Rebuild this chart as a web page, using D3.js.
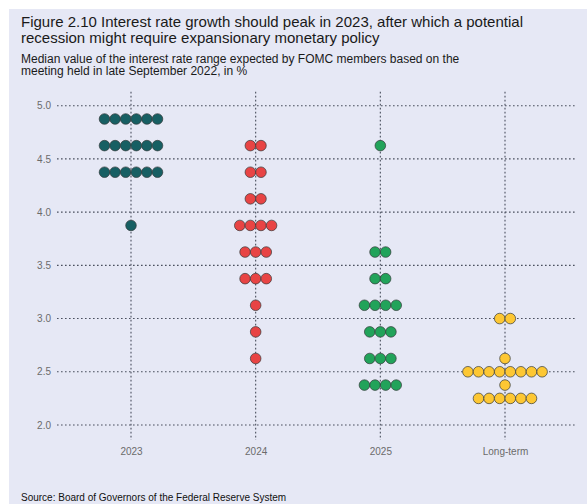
<!DOCTYPE html>
<html>
<head>
<meta charset="utf-8">
<script src="https://cdn.jsdelivr.net/npm/d3@7"></script>
<style>
  html, body { margin: 0; padding: 0; background: #ffffff; }
  svg { display: block; font-family: "Liberation Sans", Arial, sans-serif; }
</style>
</head>
<body>
<svg id="chart" width="587" height="504"></svg>
<script>
// FOMC dot plot, September 2022: each dot is one member's projection
const categories = ["2023", "2024", "2025", "Long-term"];
const colors = ["#175f63", "#e84444", "#22a35a", "#fdc733"];

// rate level (%) and number of members at that level, per horizon
const rates2023 = [4.875, 4.625, 4.375, 3.875];
const counts2023 = [6, 6, 6, 1];
const rates2024 = [4.625, 4.375, 4.125, 3.875, 3.625, 3.375, 3.125, 2.875, 2.625];
const counts2024 = [2, 2, 2, 4, 3, 3, 1, 1, 1];
const rates2025 = [4.625, 3.625, 3.375, 3.125, 2.875, 2.625, 2.375];
const counts2025 = [1, 2, 2, 4, 3, 3, 4];
const ratesLong = [3.0, 2.625, 2.5, 2.375, 2.25];
const countsLong = [2, 1, 8, 1, 6];

const yTicks = [2.0, 2.5, 3.0, 3.5, 4.0, 4.5, 5.0];

const title = ["Figure 2.10 Interest rate growth should peak in 2023, after which a potential",
               "recession might require expansionary monetary policy"];
const subtitle = ["Median value of the interest rate range expected by FOMC members based on the",
                  "meeting held in late September 2022, in %"];
const source = "Source: Board of Governors of the Federal Reserve System";

const groups = [
  [rates2023, counts2023],
  [rates2024, counts2024],
  [rates2025, counts2025],
  [ratesLong, countsLong]
];

const svg = d3.select("#chart");

// panel background
svg.append("rect").attr("x", 9).attr("y", 9).attr("width", 578).attr("height", 495)
  .attr("fill", "#e6e8f5");

// titles
const tt = svg.append("text").attr("fill", "#1a1a1a").attr("font-size", 15);
title.forEach((t, i) => tt.append("tspan").attr("x", 21).attr("y", 27 + i * 16).text(t));
const st = svg.append("text").attr("fill", "#1a1a1a").attr("font-size", 12);
subtitle.forEach((t, i) => st.append("tspan").attr("x", 21).attr("y", 62.5 + i * 12.5).text(t));

// scales
const x = d3.scalePoint().domain(categories).range([131, 505]);
const y = d3.scaleLinear().domain([2.0, 5.0]).range([425, 105.7]);
const r = 5.3;

// grid: horizontal dotted lines at ticks
const grid = svg.append("g");
grid.selectAll("line.h").data(yTicks).join("line")
  .attr("x1", 57).attr("x2", 577)
  .attr("y1", d => y(d)).attr("y2", d => y(d))
  .attr("stroke", "#4a4f5e").attr("stroke-width", 1.1).attr("stroke-dasharray", "1.6,2.4");
// vertical dotted lines at categories
grid.selectAll("line.v").data(categories).join("line")
  .attr("x1", d => x(d)).attr("x2", d => x(d))
  .attr("y1", y(5.13)).attr("y2", y(1.86))
  .attr("stroke", "#4a4f5e").attr("stroke-width", 1.1).attr("stroke-dasharray", "1.6,2.4");

// y axis labels
const yAxis = d3.axisLeft(y).tickValues(yTicks).tickFormat(d3.format(".1f")).tickSize(0).tickPadding(0);
const gy = svg.append("g").attr("transform", "translate(51,0)").call(yAxis);
gy.select(".domain").remove();
gy.selectAll("text").attr("fill", "#6b6b6b").attr("font-size", 10)
  .attr("font-family", "Liberation Sans, Arial, sans-serif");

// x axis labels
const xAxis = d3.axisBottom(x).tickSize(0).tickPadding(0);
const gx = svg.append("g").attr("transform", "translate(0,448)").call(xAxis);
gx.select(".domain").remove();
gx.selectAll("text").attr("fill", "#6b6b6b").attr("font-size", 10)
  .attr("font-family", "Liberation Sans, Arial, sans-serif");

// dots, each row centred on its category line
const dots = [];
groups.forEach(([rates, counts], gi) => {
  rates.forEach((rate, ri) => {
    const n = counts[ri];
    for (let k = 0; k < n; k++) {
      dots.push({ cat: categories[gi], rate, offset: k - (n - 1) / 2, color: colors[gi] });
    }
  });
});
svg.append("g").selectAll("circle").data(dots).join("circle")
  .attr("cx", d => x(d.cat) + d.offset * 2 * r)
  .attr("cy", d => y(d.rate))
  .attr("r", r)
  .attr("fill", d => d.color)
  .attr("stroke", "#333a3a").attr("stroke-width", 0.7);

// source note
svg.append("text").attr("x", 21).attr("y", 501).attr("font-size", 10).attr("fill", "#111")
  .text(source);
</script>
</body>
</html>
